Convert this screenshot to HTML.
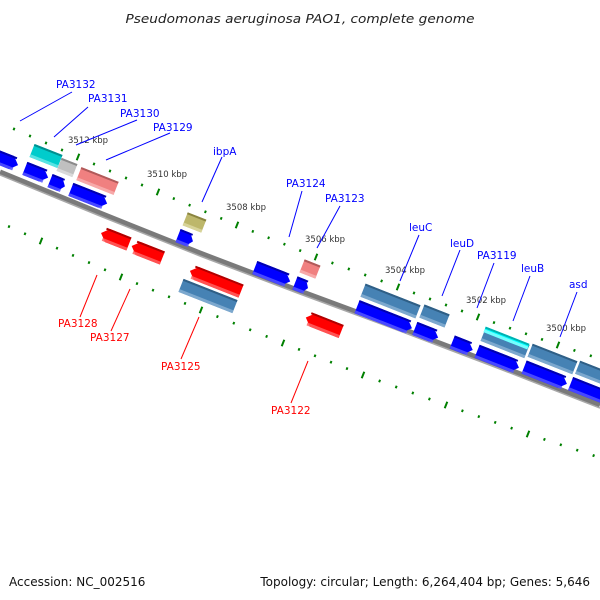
<!DOCTYPE html>
<html><head><meta charset="utf-8"><style>
html,body{margin:0;padding:0;background:#fff;}
svg{display:block;}
</style></head><body>
<svg id="s" width="600" height="600" xmlns="http://www.w3.org/2000/svg" font-family="'DejaVu Sans','Liberation Sans',sans-serif">
<rect width="600" height="600" fill="#fff"/>
<text x="300" y="23" text-anchor="middle" font-size="12.5" font-style="italic" fill="#222" textLength="349" lengthAdjust="spacingAndGlyphs">Pseudomonas aeruginosa PAO1, complete genome</text>
<polyline points="0,172 100,213 200,253 300,291 400,328 500,366 600,405" fill="none" stroke="#7a7a7a" stroke-width="5"/>
<polyline points="0,175 100,216 200,256 300,294 400,331 500,369 600,408" fill="none" stroke="#a8a8a8" stroke-width="1.5"/>
<g id="feat"></g>
<g id="ticks"></g>
<g font-size="8.5" fill="#333">
<text x="68" y="143">3512 kbp</text>
<text x="147" y="177">3510 kbp</text>
<text x="226" y="210">3508 kbp</text>
<text x="305" y="242">3506 kbp</text>
<text x="385" y="273">3504 kbp</text>
<text x="466" y="303">3502 kbp</text>
<text x="546" y="331">3500 kbp</text>
</g>
<g stroke="#0000ff" stroke-width="1">
<line x1="72" y1="92" x2="20" y2="121"/>
<line x1="88" y1="107" x2="54" y2="137"/>
<line x1="137" y1="120" x2="76" y2="145"/>
<line x1="170" y1="133" x2="106" y2="160"/>
<line x1="222" y1="157" x2="202" y2="202"/>
<line x1="302" y1="191" x2="289" y2="237"/>
<line x1="340" y1="206" x2="317" y2="248"/>
<line x1="419" y1="235" x2="400" y2="281"/>
<line x1="460" y1="250" x2="442" y2="296"/>
<line x1="494" y1="263" x2="477" y2="308"/>
<line x1="530" y1="276" x2="513" y2="321"/>
<line x1="577" y1="292" x2="560" y2="337"/>
</g>
<g stroke="#ff0000" stroke-width="1">
<line x1="97" y1="275" x2="80" y2="317"/>
<line x1="130" y1="289" x2="111" y2="331"/>
<line x1="199" y1="317" x2="181" y2="359"/>
<line x1="308" y1="361" x2="291" y2="403"/>
</g>
<g font-size="10.5" fill="#0000ff">
<text x="56" y="88">PA3132</text>
<text x="88" y="102">PA3131</text>
<text x="120" y="117">PA3130</text>
<text x="153" y="131">PA3129</text>
<text x="213" y="155">ibpA</text>
<text x="286" y="187">PA3124</text>
<text x="325" y="202">PA3123</text>
<text x="409" y="231">leuC</text>
<text x="450" y="247">leuD</text>
<text x="477" y="259">PA3119</text>
<text x="521" y="272">leuB</text>
<text x="569" y="288">asd</text>
</g>
<g font-size="10.5" fill="#ff0000">
<text x="58" y="327">PA3128</text>
<text x="90" y="341">PA3127</text>
<text x="161" y="370">PA3125</text>
<text x="271" y="414">PA3122</text>
</g>
<text x="9" y="586" font-size="12" fill="#111">Accession: NC_002516</text>
<text x="590" y="586" font-size="12" fill="#111" text-anchor="end">Topology: circular; Length: 6,264,404 bp; Genes: 5,646</text>
</svg>
<script>
(function(){
var NS="http://www.w3.org/2000/svg";
var A=21.5;
var fg=document.getElementById('feat');
function el(tag,at,p){var e=document.createElementNS(NS,tag);for(var k in at)e.setAttribute(k,at[k]);p.appendChild(e);return e;}
var C={
 blue:["#0000ff","#0000b0","#5555ff"],
 red:["#ff0000","#b00000","#ff6060"],
 sb:["#4682b4","#2f5f86","#86afd2"],
 pink:["#f08080","#b05a5a","#f8b0b0"],
 olive:["#bdb76b","#8a8440","#dcd8a0"],
 cyan:["#00cccc","#008f8f","#66e6e6"],
 grey:["#c0c0c0","#8a8a8a","#dddddd"],
 cyanb:["#00ffff","#00b0b0","#88ffff"]
};
function feat(cx,cy,L,h,col,dir){
 var g=el('g',{transform:'translate('+cx+','+cy+') rotate('+A+')'},fg);
 var c=C[col],x0=-L/2,x1=L/2,y0=-h/2,y1=h/2,p;
 var t=Math.min(7,L/3);
 if(dir>0) p=[[x0,y0],[x1-t,y0],[x1,0],[x1-t,y1],[x0,y1]];
 else if(dir<0) p=[[x0+t,y0],[x1,y0],[x1,y1],[x0+t,y1],[x0,0]];
 else p=[[x0,y0],[x1,y0],[x1,y1],[x0,y1]];
 el('polygon',{points:p.map(function(q){return q.join(',')}).join(' '),fill:c[0]},g);
 el('rect',{x:x0+(dir<0?t*0.5:0),y:y0,width:L-(dir!==0?t*0.5:0),height:2,fill:c[1]},g);
 el('rect',{x:x0+(dir<0?t*0.5:0),y:y1-3,width:L-(dir!==0?t*0.5:0),height:3,fill:c[2],opacity:0.85},g);
}
var H=14;
[[5,160,28],[36.5,173,25],[57.5,183.5,16],[89,196.5,39],[185.5,238.5,16],[272.5,274.5,38],[301.5,285.5,14],[384.5,317.5,59],[426.5,333,25],[462.5,346,22],[498,359.5,45],[545.5,375.5,46],[592,392,46]].forEach(function(f){feat(f[0],f[1],f[2],H,'blue',1);});
feat(46,156,30,H,'cyan',0);
feat(67,167.5,17,H,'grey',0);
feat(97.5,181,40,H,'pink',0);
feat(194.5,222.5,20,H,'olive',0);
feat(310,269,17,H,'pink',0);
feat(390.5,301,59,H,'sb',0);
feat(434.5,316,27,H,'sb',0);
feat(505,343,47,H,'sb',0);
feat(506.5,338,47,6,'cyanb',0);
feat(552.5,359,48,H,'sb',0);
feat(600,376,48,H,'sb',0);
feat(115,238.5,30,H,'red',-1);
feat(147,252,33,H,'red',-1);
feat(215.5,281,55,H,'red',-1);
feat(208,296,58,H,'sb',0);
feat(323.5,324.5,38,H,'red',-1);
var tg=document.getElementById('ticks');
function row(pts){
 for(var i=0;i<pts.length-1;i++){
  var a=pts[i],b=pts[i+1];
  for(var j=0;j<5;j++){
   var f=j/5,x=a[0]+(b[0]-a[0])*f,y=a[1]+(b[1]-a[1])*f;
   if(x<2||x>598||y>598)continue;
   var big=(j==0),l=big?3.5:1.3;
   var dx=Math.sin(A*Math.PI/180)*l,dy=-Math.cos(A*Math.PI/180)*l;
   el('line',{x1:x-dx,y1:y-dy,x2:x+dx,y2:y+dy,stroke:'#008000','stroke-width':2},tg);
  }
 }
}
row([[-2,122],[78,157],[158,192],[237,225],[316,257],[398,287],[478,317],[558,345],[640,372]]);
row([[-39,205],[41,241],[121,277],[201,310],[283,343],[363,375],[446,405],[528,434],[610,461]]);
})();
</script>
</body></html>
